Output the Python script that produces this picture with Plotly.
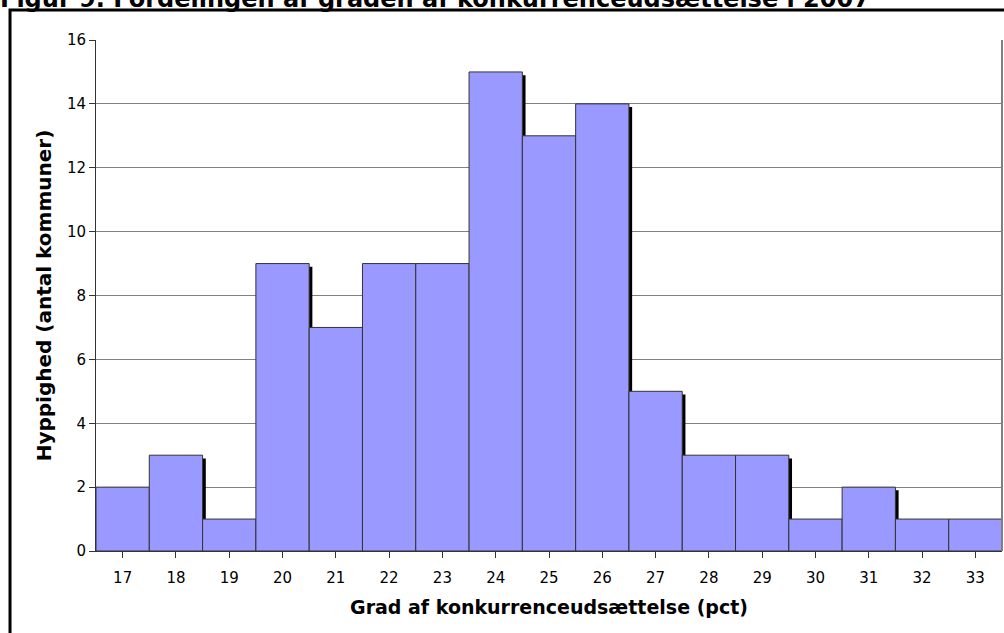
import plotly.graph_objects as go

grad = [17, 18, 19, 20, 21, 22, 23, 24, 25, 26, 27, 28, 29, 30, 31, 32, 33]
antal = [2, 3, 1, 9, 7, 9, 9, 15, 13, 14, 5, 3, 3, 1, 2, 1, 1]
y_ticks = [0, 2, 4, 6, 8, 10, 12, 14, 16]

title_text = "Figur 9. Fordelingen af graden af konkurrenceudsættelse i 2007"
x_title = "Grad af konkurrenceudsættelse (pct)"
y_title = "Hyppighed (antal kommuner)"

font_family = "DejaVu Sans, Verdana, sans-serif"
bar_fill = "#9999FF"
grid_col = "#808080"

fig = go.Figure()

# excel style drop shadow behind each bar
fig.add_trace(go.Bar(
    x=grad,
    y=[v - 0.1 for v in antal],
    width=1,
    offset=-0.5 + 0.06,
    marker=dict(color="black", line=dict(width=0)),
    hoverinfo="skip",
    showlegend=False,
))

fig.add_trace(go.Bar(
    x=grad,
    y=antal,
    width=1,
    marker=dict(color=bar_fill, line=dict(color="#333333", width=1)),
    showlegend=False,
))

fig.update_layout(
    width=1004,
    height=633,
    barmode="overlay",
    plot_bgcolor="white",
    paper_bgcolor="white",
    margin=dict(l=96, r=2, t=40, b=82),
    font=dict(family=font_family, size=15, color="black"),
)

fig.update_xaxes(
    range=[16.5, 33.5],
    tickmode="array",
    tickvals=grad,
    ticktext=[str(g) for g in grad],
    tickson="boundaries",
    ticks="outside",
    ticklen=6,
    tickcolor="#333333",
    ticklabelstandoff=7,
    showline=True,
    linecolor="#333333",
    linewidth=1,
    showgrid=False,
    title=dict(text="<b>" + x_title + "</b>", font=dict(size=19), standoff=14),
)

fig.update_yaxes(
    range=[0, 16],
    tickmode="array",
    tickvals=y_ticks,
    ticks="outside",
    ticklen=6,
    tickcolor="#333333",
    showline=True,
    linecolor="#333333",
    linewidth=1,
    showgrid=True,
    gridcolor=grid_col,
    gridwidth=1,
    zeroline=False,
    title=dict(text="<b>" + y_title + "</b>", font=dict(size=20), standoff=9),
)

# right border of plot area
fig.add_shape(type="line", xref="paper", yref="paper", x0=1, x1=1, y0=0, y1=1,
              line=dict(color=grid_col, width=2))

# outer black frame, partly cut by the page
fig.add_shape(type="rect", xref="paper", yref="paper",
              x0=-0.0949, x1=1.05, y0=-0.3, y1=1.0587,
              line=dict(color="black", width=3), layer="above")

fig.add_annotation(
    text="<b>" + title_text + "</b>",
    xref="paper", yref="paper",
    x=-0.108, y=1.049,
    xanchor="left", yanchor="bottom",
    showarrow=False,
    font=dict(size=24, family=font_family, color="black"),
)

fig.write_html(
    "out.html",
    config={"displayModeBar": False},
    post_script="document.body.style.margin='0';document.body.style.overflow='hidden';",
)
